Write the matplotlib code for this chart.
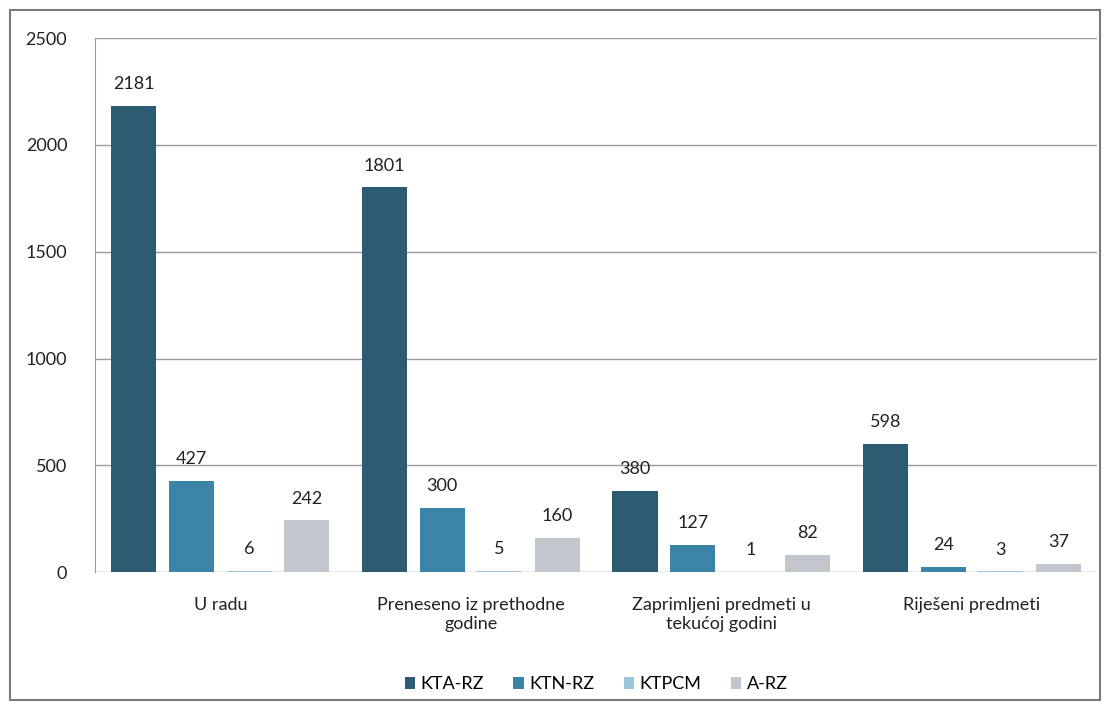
import numpy as np
import matplotlib
matplotlib.use("Agg")
import matplotlib.pyplot as plt
from matplotlib.patches import Rectangle

plt.rcParams["font.family"] = ["Lato", "DejaVu Sans"]

# ==========================
# DATA
# ==========================

categories = [
    "U radu",
    "Preneseno iz prethodne\ngodine",
    "Zaprimljeni predmeti u\ntekućoj godini",
    "Riješeni predmeti",
]
series_names = ["KTA-RZ", "KTN-RZ", "KTPCM", "A-RZ"]
kta_rz = [2181, 1801, 380, 598]
ktn_rz = [427, 300, 127, 24]
ktpcm = [6, 5, 1, 3]
a_rz = [242, 160, 82, 37]

colors = ["#2d5b71", "#3b84a8", "#9cc6dc", "#c3c7cd"]

# ==========================
# PLOT
# ==========================

fig = plt.figure(figsize=(11.1, 7.08), dpi=100)
ax = fig.add_axes([0.0856, 0.192, 0.903, 0.754])

x = np.arange(len(categories))
width = 0.18
step = 0.23
all_series = [kta_rz, ktn_rz, ktpcm, a_rz]

for i, (vals, name, col) in enumerate(zip(all_series, series_names, colors)):
    pos = x + (i - 1.5) * step
    ax.bar(pos, vals, width, color=col, label=name, zorder=3)
    for p, v in zip(pos, vals):
        ax.text(p, v + 65, str(v), ha="center", va="bottom",
                fontsize=13, color="#222222", zorder=4)

ax.set_xlim(-0.5, len(categories) - 0.5)
ax.set_ylim(0, 2500)
ax.set_yticks(np.arange(0, 2501, 500))
ax.set_xticks(x)
ax.set_xticklabels(categories, fontsize=13, color="#222222", linespacing=1.25)
ax.tick_params(axis="y", labelsize=13, colors="#222222", length=0, pad=20)
ax.tick_params(axis="x", length=0, pad=18)
ax.grid(axis="y", color="#9a9a9a", linewidth=1.0, zorder=0)

for s in ["top", "right", "bottom"]:
    ax.spines[s].set_visible(False)
ax.spines["left"].set_color("#9a9a9a")
ax.spines["left"].set_linewidth(0.8)

ax.legend(loc="upper center", bbox_to_anchor=(0.5, -0.165), ncol=4,
          frameon=False, fontsize=13, handlelength=0.6, handleheight=0.6,
          handletextpad=0.3, columnspacing=1.6)

# outer chart border
fig.add_artist(Rectangle((0.009, 0.012), 0.982, 0.974,
                         transform=fig.transFigure, fill=False,
                         edgecolor="#7a7a7a", linewidth=1.5))

plt.savefig("out.png", dpi=100)
plt.close()
